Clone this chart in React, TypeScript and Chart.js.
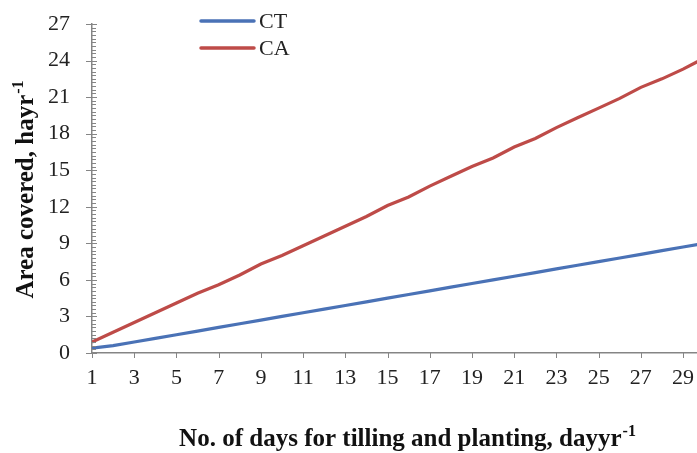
import React, { useEffect, useRef } from "react";
import { Chart, registerables } from "chart.js";

Chart.register(...registerables);

const days = [1, 2, 3, 4, 5, 6, 7, 8, 9, 10, 11, 12, 13, 14, 15, 16, 17, 18, 19, 20, 21, 22, 23, 24, 25, 26, 27, 28, 29, 30];
const ctValues = [0.4, 0.6, 0.9, 1.2, 1.5, 1.8, 2.1, 2.4, 2.7, 3.0, 3.3, 3.6, 3.9, 4.2, 4.5, 4.8, 5.1, 5.4, 5.7, 6.0, 6.3, 6.6, 6.9, 7.2, 7.5, 7.8, 8.1, 8.4, 8.7, 9.0];
const caValues = [0.9, 1.7, 2.5, 3.3, 4.1, 4.9, 5.6, 6.4, 7.3, 8.0, 8.8, 9.6, 10.4, 11.2, 12.1, 12.8, 13.7, 14.5, 15.3, 16.0, 16.9, 17.6, 18.5, 19.3, 20.1, 20.9, 21.8, 22.5, 23.3, 24.2];
const xTickValues = [1, 3, 5, 7, 9, 11, 13, 15, 17, 19, 21, 23, 25, 27, 29];
const yTickValues = [0, 3, 6, 9, 12, 15, 18, 21, 24, 27];
const seriesNames = ["CT", "CA"];
const xTitle = "No. of days for tilling and planting, dayyr";
const yTitle = "Area covered, hayr";
const titleSup = "-1";

const FONT = "'Liberation Serif', 'Times New Roman', serif";
const AXIS_COLOR = "#858585";

const decorPlugin = {
  id: "decor",
  afterDraw(chart: any) {
    const ctx = chart.ctx as CanvasRenderingContext2D;
    const xs = chart.scales.x;
    const ys = chart.scales.y;
    const area = chart.chartArea;
    ctx.save();
    ctx.strokeStyle = AXIS_COLOR;
    ctx.lineWidth = 1;
    for (let v = 0; v <= 27.0001; v += 0.3) {
      const y = Math.round(ys.getPixelForValue(v)) + 0.5;
      ctx.beginPath();
      ctx.moveTo(area.left, y);
      ctx.lineTo(area.left + 4, y);
      ctx.stroke();
    }
    yTickValues.forEach((v) => {
      const y = Math.round(ys.getPixelForValue(v)) + 0.5;
      ctx.beginPath();
      ctx.moveTo(area.left - 6, y);
      ctx.lineTo(area.left + 5, y);
      ctx.stroke();
    });
    xTickValues.forEach((v) => {
      const x = Math.round(xs.getPixelForValue(v)) + 0.5;
      ctx.beginPath();
      ctx.moveTo(x, area.bottom);
      ctx.lineTo(x, area.bottom + 5);
      ctx.stroke();
    });

    chart.data.datasets.forEach((ds: any, i: number) => {
      const y = 21 + i * 27;
      ctx.strokeStyle = ds.borderColor;
      ctx.lineWidth = 3.5;
      ctx.lineCap = "round";
      ctx.beginPath();
      ctx.moveTo(201, y);
      ctx.lineTo(254, y);
      ctx.stroke();
      ctx.fillStyle = "#222";
      ctx.font = `22px ${FONT}`;
      ctx.textBaseline = "middle";
      ctx.textAlign = "left";
      ctx.fillText(ds.label, 259, y + 1);
    });

    const drawTitle = (text: string, cx: number, cy: number, rotate: boolean) => {
      ctx.save();
      ctx.translate(cx, cy);
      if (rotate) ctx.rotate(-Math.PI / 2);
      ctx.fillStyle = "#111";
      ctx.textBaseline = "alphabetic";
      ctx.textAlign = "left";
      ctx.font = `bold 25px ${FONT}`;
      const w1 = ctx.measureText(text).width;
      ctx.font = `bold 16px ${FONT}`;
      const w2 = ctx.measureText(titleSup).width;
      const start = -(w1 + w2) / 2;
      ctx.font = `bold 25px ${FONT}`;
      ctx.fillText(text, start, 8);
      ctx.font = `bold 16px ${FONT}`;
      ctx.fillText(titleSup, start + w1 + 1, -2);
      ctx.restore();
    };
    drawTitle(xTitle, 407, 438, false);
    drawTitle(yTitle, 25, 190, true);
    ctx.restore();
  },
};

export default function App() {
  const ref = useRef<HTMLCanvasElement | null>(null);
  useEffect(() => {
    document.body.style.margin = "0";
    const canvas = ref.current!;
    const chart = new Chart(canvas, {
      type: "line",
      data: {
        datasets: [
          {
            label: seriesNames[0],
            data: days.map((d, i) => ({ x: d, y: ctValues[i] })),
            borderColor: "#4A72B6",
            backgroundColor: "#4A72B6",
            borderWidth: 3.2,
            pointRadius: 0,
            tension: 0,
          },
          {
            label: seriesNames[1],
            data: days.map((d, i) => ({ x: d, y: caValues[i] })),
            borderColor: "#BE4B48",
            backgroundColor: "#BE4B48",
            borderWidth: 3.2,
            pointRadius: 0,
            tension: 0,
          },
        ],
      },
      options: {
        responsive: false,
        animation: false,
        layout: { padding: { top: 24, right: 0, left: 0, bottom: 0 } },
        plugins: {
          legend: { display: false },
          tooltip: { enabled: false },
        },
        scales: {
          x: {
            type: "linear",
            min: 1,
            max: 29.66,
            afterBuildTicks: (s: any) => {
              s.ticks = xTickValues.map((v) => ({ value: v }));
            },
            afterFit: (s: any) => {
              s.height = 100;
              s.paddingLeft = 0;
              s.paddingRight = 0;
            },
            grid: { display: false, drawTicks: false },
            border: { display: true, color: AXIS_COLOR, width: 1.5 },
            ticks: {
              padding: 12,
              maxRotation: 0,
              autoSkip: false,
              color: "#222",
              font: { family: FONT, size: 22 },
            },
          },
          y: {
            type: "linear",
            min: 0,
            max: 27,
            afterBuildTicks: (s: any) => {
              s.ticks = yTickValues.map((v) => ({ value: v }));
            },
            afterFit: (s: any) => {
              s.width = 92;
              s.paddingTop = 0;
              s.paddingBottom = 0;
            },
            grid: { display: false, drawTicks: false },
            border: { display: true, color: AXIS_COLOR, width: 1.5 },
            ticks: {
              padding: 22,
              color: "#222",
              font: { family: FONT, size: 22 },
            },
          },
        },
      },
      plugins: [decorPlugin],
    } as any);
    return () => chart.destroy();
  }, []);
  return (
    <div style={{ position: "fixed", left: 0, top: 0, width: 697, height: 453 }}>
      <canvas ref={ref} width={697} height={453} style={{ display: "block" }} />
    </div>
  );
}
